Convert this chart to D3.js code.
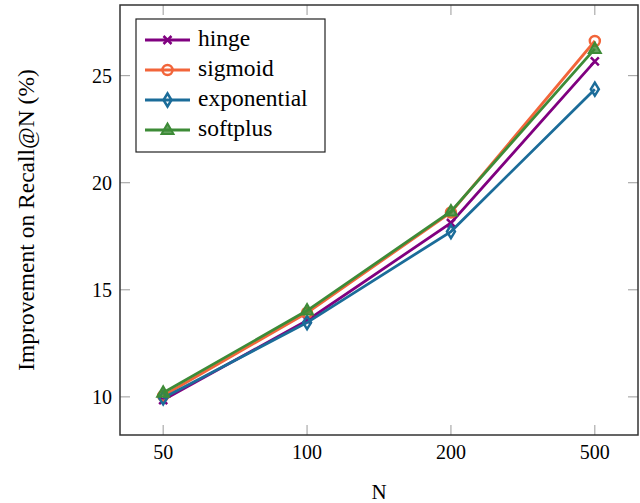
<!DOCTYPE html>
<html><head><meta charset="utf-8">
<script src="https://cdn.jsdelivr.net/npm/d3@7"></script>
<style>body{margin:0;background:#fff}svg{display:block}</style>
</head><body><svg id="c" width="640" height="503"></svg>
<script>
const categories = ["50","100","200","500"];
const hinge = [9.85, 13.57, 18.12, 25.67];
const sigmoid = [10.05, 13.93, 18.61, 26.62];
const exponential = [9.95, 13.47, 17.72, 24.37];
const softplus = [10.19, 14.03, 18.66, 26.25];
const yTicks = [10, 15, 20, 25];
const seriesNames = ["hinge","sigmoid","exponential","softplus"];
const seriesValues = [hinge, sigmoid, exponential, softplus];
const colors = ["#800080","#f2653a","#1b6c99","#3d8b37"];
const markers = ["cross","circle","diamond","triangle"];
const FONT = "'Liberation Serif', 'Times New Roman', 'DejaVu Serif', serif";

const svg = d3.select("#c");
const L=120,R=638,T=5,B=435;
const x = d3.scalePoint().domain(categories).range([L,R]).padding(0.3);
const y = d3.scaleLinear().domain([8.22,28.3]).range([B,T]);

const tk = svg.append("g").attr("stroke","#9a9a9a").attr("stroke-width",1);
categories.forEach(c=>{
  tk.append("line").attr("x1",x(c)).attr("x2",x(c)).attr("y1",B).attr("y2",B-10);
  tk.append("line").attr("x1",x(c)).attr("x2",x(c)).attr("y1",T).attr("y2",T+10);
});
yTicks.forEach(v=>{
  tk.append("line").attr("x1",L).attr("x2",L+10).attr("y1",y(v)).attr("y2",y(v));
  tk.append("line").attr("x1",R).attr("x2",R-10).attr("y1",y(v)).attr("y2",y(v));
});

function txt(sel){ return sel.append("text").attr("font-family",FONT).attr("fill","#000"); }

categories.forEach(c=>txt(svg).attr("x",x(c)).attr("y",459).attr("text-anchor","middle").attr("font-size",20).text(c));
yTicks.forEach(v=>txt(svg).attr("x",112).attr("y",y(v)+7).attr("text-anchor","end").attr("font-size",20).text(v));

txt(svg).attr("x",(L+R)/2).attr("y",499).attr("text-anchor","middle").attr("font-size",21).text("N");
txt(svg).attr("transform",`translate(34,${(T+B)/2}) rotate(-90)`).attr("text-anchor","middle").attr("font-size",23.5).text("Improvement on Recall@N (%)");

function drawMarker(g, m, cx, cy, col){
  if(m==="cross"){
    const s=4;
    g.append("path").attr("d",`M${cx-s},${cy-s}L${cx+s},${cy+s}M${cx-s},${cy+s}L${cx+s},${cy-s}`).attr("stroke",col).attr("stroke-width",2.5).attr("fill","none");
  } else if(m==="circle"){
    g.append("circle").attr("cx",cx).attr("cy",cy).attr("r",5).attr("stroke",col).attr("stroke-width",2.5).attr("fill","none");
  } else if(m==="diamond"){
    g.append("path").attr("d",`M${cx},${cy-6.5}L${cx+4},${cy}L${cx},${cy+6.5}L${cx-4},${cy}Z`).attr("stroke",col).attr("stroke-width",2.5).attr("fill","none");
  } else {
    g.append("path").attr("d",`M${cx},${cy-6.5}L${cx+6},${cy+4}L${cx-6},${cy+4}Z`).attr("stroke",col).attr("stroke-width",2).attr("fill",col).attr("fill-opacity",0.8);
  }
}

const line = d3.line().x((d,i)=>x(categories[i])).y(d=>y(d));
seriesValues.forEach((vals,k)=>{
  const g = svg.append("g");
  g.append("path").attr("d",line(vals)).attr("stroke",colors[k]).attr("stroke-width",2.8).attr("fill","none");
  vals.forEach((v,i)=>drawMarker(g, markers[k], x(categories[i]), y(v), colors[k]));
});

svg.append("rect").attr("x",L).attr("y",T).attr("width",R-L).attr("height",B-T).attr("fill","none").attr("stroke","#333").attr("stroke-width",1.5);

const lg = svg.append("g");
lg.append("rect").attr("x",136).attr("y",19).attr("width",189).attr("height",133).attr("fill","#fff").attr("stroke","#222").attr("stroke-width",1.2);
seriesNames.forEach((n,k)=>{
  const cy = 40 + k*30;
  lg.append("line").attr("x1",145).attr("x2",190).attr("y1",cy).attr("y2",cy).attr("stroke",colors[k]).attr("stroke-width",2.8);
  drawMarker(lg, markers[k], 167.5, cy, colors[k]);
  txt(lg).attr("x",198).attr("y",cy+6).attr("font-size",23.5).text(n);
});
</script></body></html>
